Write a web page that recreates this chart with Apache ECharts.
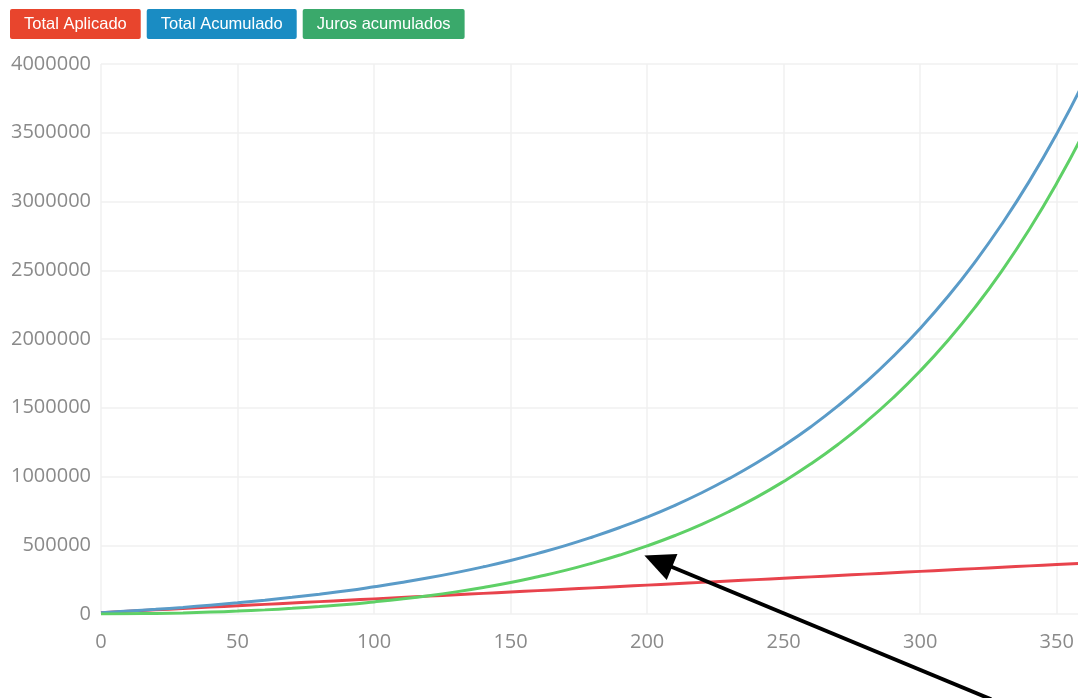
<!DOCTYPE html>
<html>
<head>
<meta charset="utf-8">
<title>Juros compostos</title>
<script src="https://cdn.jsdelivr.net/npm/echarts@6/dist/echarts.min.js"></script>
<style>
  html, body { margin: 0; padding: 0; background: #ffffff; overflow: hidden; }
  #chart { width: 1084px; height: 698px; }
</style>
</head>
<body>
<div id="chart"></div>
<script>
// Months (x axis), sampled every 10 months
const months = [0, 10, 20, 30, 40, 50, 60, 70, 80, 90, 100, 110, 120, 130, 140, 150, 160, 170, 180,
  190, 200, 210, 220, 230, 240, 250, 260, 270, 280, 290, 300, 310, 320, 330, 340, 350, 360];

// Total invested so far
const totalAplicado = [10000, 20000, 30000, 40000, 50000, 60000, 70000, 80000, 90000, 100000,
  110000, 120000, 130000, 140000, 150000, 160000, 170000, 180000, 190000, 200000, 210000,
  220000, 230000, 240000, 250000, 260000, 270000, 280000, 290000, 300000, 310000, 320000,
  330000, 340000, 350000, 360000, 370000];

// Balance including interest
const totalAcumulado = [10000, 22000, 34000, 48000, 64000, 81000, 100000, 121000, 144000, 169000,
  198000, 229000, 263000, 301000, 343000, 389000, 441000, 497000, 560000, 629000, 705000,
  789000, 882000, 985000, 1098000, 1224000, 1362000, 1515000, 1684000, 1871000, 2077000,
  2305000, 2558000, 2838000, 3148000, 3492000, 3872000];

// Interest earned
const jurosAcumulados = [0, 2000, 4000, 8000, 14000, 21000, 30000, 41000, 54000, 69000,
  88000, 109000, 133000, 161000, 193000, 229000, 271000, 317000, 370000, 429000, 495000,
  569000, 652000, 745000, 848000, 964000, 1092000, 1235000, 1394000, 1571000, 1767000,
  1985000, 2228000, 2498000, 2798000, 3132000, 3502000];

const seriesNames = ['Total Aplicado', 'Total Acumulado', 'Juros acumulados'];
const lineColors = ['#e8434c', '#5a9bc8', '#5ed066'];
const badgeColors = ['#e8452d', '#1a8cc3', '#3aa96b'];
const badgeKeys = ['r', 'b', 'g'];

const pairs = values => months.map((m, i) => [m, values[i]]);

const chart = echarts.init(document.getElementById('chart'), null, { renderer: 'canvas' });

const rich = {};
badgeKeys.forEach((k, i) => {
  rich[k] = {
    color: '#ffffff',
    backgroundColor: badgeColors[i],
    fontSize: 16.5,
    fontFamily: 'Liberation Sans, Arial, sans-serif',
    padding: [7, 14, 6, 14],
    borderRadius: 2
  };
});

const axisFont = { color: '#8a8a8a', fontSize: 20, fontFamily: 'Open Sans, sans-serif' };

chart.setOption({
  animation: false,
  backgroundColor: '#ffffff',
  legend: {
    left: 5,
    top: 9,
    icon: 'none',
    itemWidth: 0,
    itemHeight: 0,
    itemGap: 1,
    padding: 0,
    data: seriesNames,
    formatter: name => '{' + badgeKeys[seriesNames.indexOf(name)] + '|' + name + '}',
    textStyle: { rich: rich }
  },
  grid: { left: 101, right: 0, top: 64, bottom: 84, containLabel: false },
  xAxis: {
    type: 'value',
    min: 0,
    max: 360,
    interval: 50,
    axisLine: { show: false },
    axisTick: { show: false },
    axisLabel: Object.assign({ margin: 18, showMaxLabel: false, formatter: v => String(v) }, axisFont),
    splitLine: { show: true, lineStyle: { color: '#f0f0f0', width: 1.5 } }
  },
  yAxis: {
    type: 'value',
    min: 0,
    max: 4000000,
    interval: 500000,
    axisLine: { show: false },
    axisTick: { show: false },
    axisLabel: Object.assign({ margin: 10, formatter: v => String(v) }, axisFont),
    splitLine: { show: true, lineStyle: { color: '#f0f0f0', width: 1.5 } }
  },
  series: [
    { name: seriesNames[0], type: 'line', data: pairs(totalAplicado), smooth: true, showSymbol: false,
      color: badgeColors[0], lineStyle: { color: lineColors[0], width: 3 } },
    { name: seriesNames[1], type: 'line', data: pairs(totalAcumulado), smooth: true, showSymbol: false,
      color: badgeColors[1], lineStyle: { color: lineColors[1], width: 3 } },
    { name: seriesNames[2], type: 'line', data: pairs(jurosAcumulados), smooth: true, showSymbol: false,
      color: badgeColors[2], lineStyle: { color: lineColors[2], width: 3 } }
  ]
});

// Annotation arrow pointing at the interest curve
function drawArrow() {
  const tip = chart.convertToPixel({ gridIndex: 0 }, [199, 425000]);
  const tail = chart.convertToPixel({ gridIndex: 0 }, [326, -620000]);
  const dx = tail[0] - tip[0], dy = tail[1] - tip[1];
  const len = Math.sqrt(dx * dx + dy * dy);
  const ux = dx / len, uy = dy / len;
  const headLen = 30, headHalf = 14;
  const bx = tip[0] + ux * headLen, by = tip[1] + uy * headLen;
  const px = -uy, py = ux;
  chart.setOption({
    graphic: [
      { type: 'line', z: 100, shape: { x1: bx - ux * 4, y1: by - uy * 4, x2: tail[0], y2: tail[1] },
        style: { stroke: '#000000', lineWidth: 4 } },
      { type: 'polygon', z: 100, shape: { points: [tip, [bx + px * headHalf, by + py * headHalf], [bx - px * headHalf, by - py * headHalf]] },
        style: { fill: '#000000' } }
    ]
  });
}
drawArrow();
</script>
</body>
</html>
